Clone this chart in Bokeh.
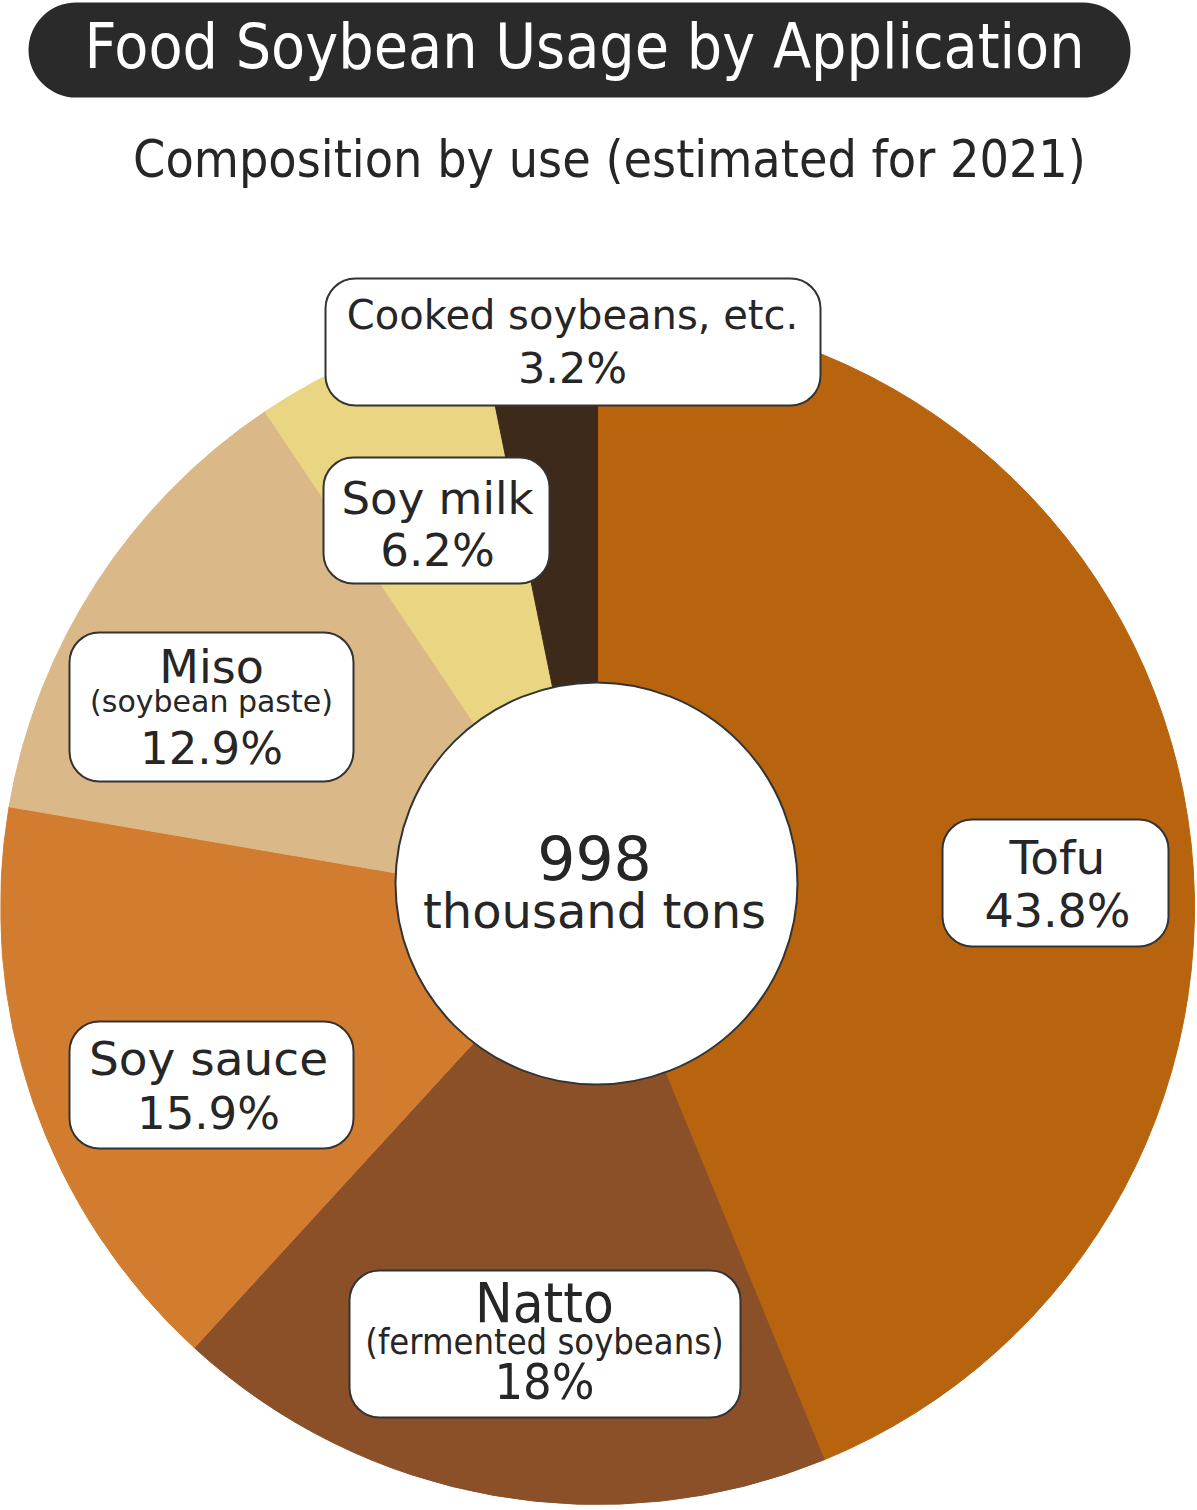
import math
from bokeh.plotting import figure
from bokeh.models import ColumnDataSource, Range1d, BoxAnnotation, LabelSet, Label
from bokeh.core.properties import value
from bokeh.embed import file_html
from bokeh.resources import INLINE

# ---------------- data ----------------
title_text = "Food Soybean Usage by Application"
subtitle_text = "Composition by use (estimated for 2021)"
categories = ["Tofu", "Natto", "Soy sauce", "Miso", "Soy milk", "Cooked soybeans, etc."]
notes = ["", "(fermented soybeans)", "", "(soybean paste)", "", ""]
shares = [43.8, 18.0, 15.9, 12.9, 6.2, 3.2]
total_value = "998"
total_unit = "thousand tons"

# ---------------- styles ----------------
colors = ["#B8640E", "#8B5028", "#D27C30", "#DAB887", "#E9D582", "#3E2A1A"]
TXT = "#262626"
WIDE = "DejaVu Sans"
COND = "DejaVu Sans Condensed"

# layout (reference pixel coordinates; y measured downward)
box_pos = {
    "Tofu": (942, 1168, 819, 946),
    "Natto": (349, 740, 1270, 1417),
    "Soy sauce": (69, 353, 1021, 1148),
    "Miso": (69, 353, 632, 781),
    "Soy milk": (323, 549, 457, 583),
    "Cooked soybeans, etc.": (325, 820, 278, 405),
}
# x centre, name mid-y, note mid-y, pct mid-y, name size, note size, pct size, font
text_pos = {
    "Tofu": (1057, 857, None, 910, 47, 0, 46, WIDE),
    "Natto": (544, 1302, 1341, 1381, 56, 36, 50, COND),
    "Soy sauce": (208, 1058, None, 1113, 47, 0, 45, WIDE),
    "Miso": (211, 666, 701, 748, 46, 30, 45, WIDE),
    "Soy milk": (437, 498, None, 550, 45, 0, 45, WIDE),
    "Cooked soybeans, etc.": (572, 314, None, 367, 40, 0, 43, WIDE),
}
PIE_X, PIE_Y, PIE_R = 597, 907, 597
HOLE_X, HOLE_Y, HOLE_R = 596, 883, 201

W, H = 1197, 1510
p = figure(width=W, height=H, x_range=Range1d(0, W), y_range=Range1d(-H, 0),
           output_backend="svg", toolbar_location=None, min_border=0,
           x_axis_location=None, y_axis_location=None)
p.grid.visible = False
p.outline_line_color = None
p.background_fill_color = "white"
p.border_fill_color = "white"

# ---------------- pie ----------------
starts, ends = [], []
cum = 0.0
total = sum(shares)
for s in shares:
    a0 = cum / total * 2 * math.pi
    cum += s
    a1 = cum / total * 2 * math.pi
    starts.append(math.pi / 2 - a1)
    ends.append(math.pi / 2 - a0)

pie_src = ColumnDataSource(dict(cat=categories, share=shares, start=starts, end=ends, color=colors))
p.wedge(x=PIE_X, y=-PIE_Y, radius=PIE_R, start_angle="start", end_angle="end",
        fill_color="color", line_color="color", line_width=1, source=pie_src)

p.circle(x=HOLE_X, y=-HOLE_Y, radius=HOLE_R, fill_color="white", line_color="#333333", line_width=2)

# centre text
p.text(x=[594], y=[-857], text=[total_value], text_font=value(WIDE), text_font_size="60px",
       text_align="center", text_baseline="middle", text_color=TXT)
p.text(x=[594], y=[-910], text=[total_unit], text_font=value(WIDE), text_font_size="48px",
       text_align="center", text_baseline="middle", text_color=TXT)

# ---------------- title pill ----------------
p.add_layout(BoxAnnotation(left=28, right=1130, top=-2, bottom=-97, fill_color="#2A2A2A",
                           fill_alpha=1, line_color=None, border_radius=48))
p.add_layout(Label(x=584, y=-46, text=title_text, text_font=COND, text_font_size="62px",
                   text_align="center", text_baseline="middle", text_color="white"))
p.add_layout(Label(x=609, y=-158, text=subtitle_text, text_font=COND, text_font_size="51.5px",
                   text_align="center", text_baseline="middle", text_color=TXT))

# ---------------- label boxes ----------------
for c in categories:
    l, r, t, b = box_pos[c]
    p.add_layout(BoxAnnotation(left=l, right=r, top=-t, bottom=-b, fill_color="white", fill_alpha=1,
                               line_color="#333333", line_alpha=1, line_width=2, border_radius=30))

# ---------------- label texts ----------------
xs, ys, txts, sizes, fonts = [], [], [], [], []
for c, n, s in zip(categories, notes, shares):
    x, yn, ynote, yp, sn, snote, sp, font = text_pos[c]
    xs.append(x); ys.append(-yn); txts.append(c); sizes.append(f"{sn}px"); fonts.append(font)
    if n:
        xs.append(x); ys.append(-ynote); txts.append(n); sizes.append(f"{snote}px"); fonts.append(font)
    xs.append(x); ys.append(-yp); txts.append(f"{s:g}%"); sizes.append(f"{sp}px"); fonts.append(font)

lab_src = ColumnDataSource(dict(x=xs, y=ys, text=txts, size=sizes, font=fonts))
p.add_layout(LabelSet(x="x", y="y", text="text", text_font_size="size", text_font="font", source=lab_src,
                      text_align="center", text_baseline="middle", text_color=TXT))

open("out.html", "w").write(file_html(p, INLINE))
